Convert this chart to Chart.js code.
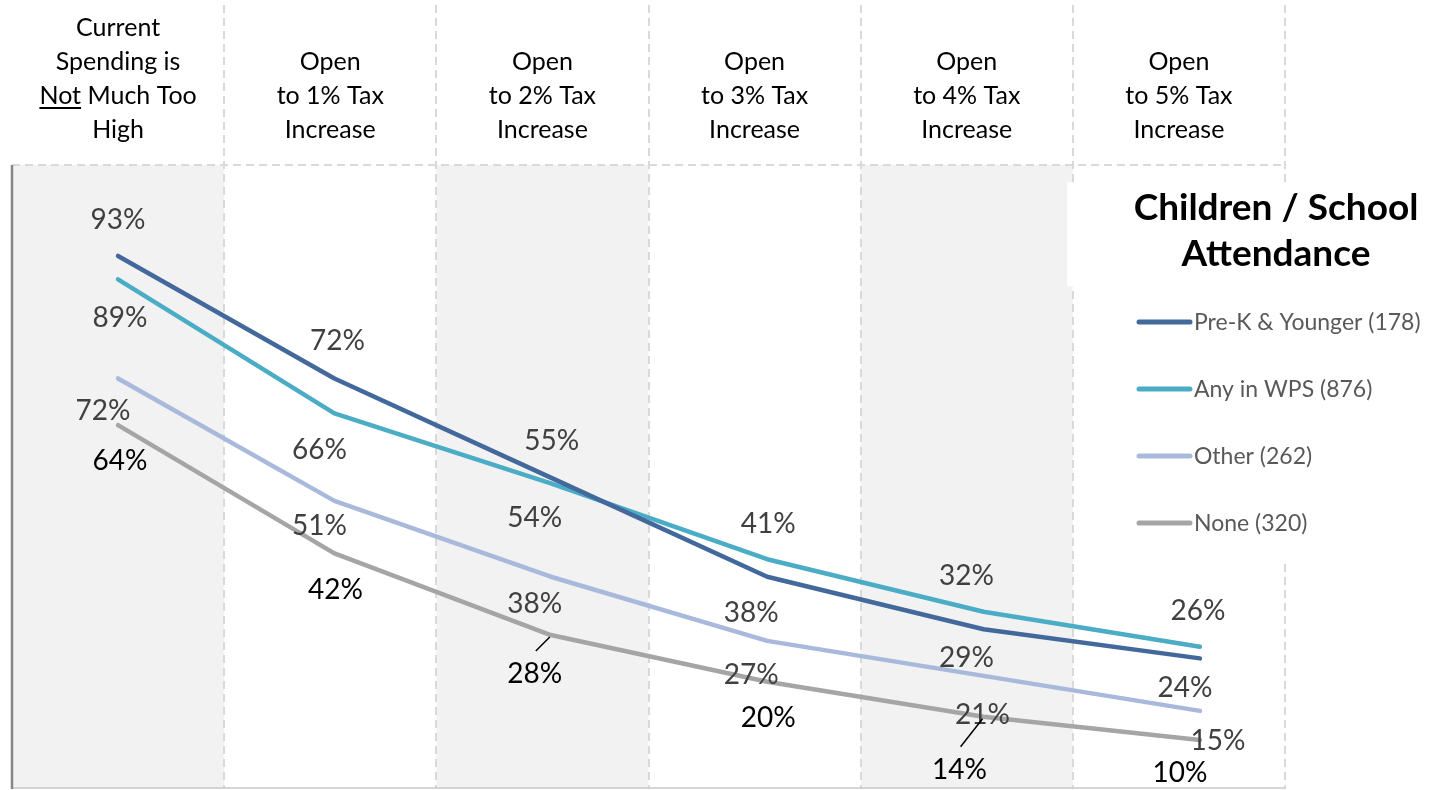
<!DOCTYPE html>
<html>
<head>
<meta charset="utf-8">
<script src="https://cdn.jsdelivr.net/npm/chart.js@4.4.1/dist/chart.umd.min.js"></script>
<style>
  html, body { margin: 0; padding: 0; background: #fff; }
  #wrap { width: 1437px; height: 790px; position: relative; }
</style>
</head>
<body>
<div id="wrap"><canvas id="chart"></canvas></div>
<script>
// Column headers (one array per column, one string per line)
const categories = [
  ['Current', 'Spending is', 'Not Much Too', 'High'],
  ['Open', 'to 1% Tax', 'Increase'],
  ['Open', 'to 2% Tax', 'Increase'],
  ['Open', 'to 3% Tax', 'Increase'],
  ['Open', 'to 4% Tax', 'Increase'],
  ['Open', 'to 5% Tax', 'Increase'],
];
const underlinedWord = 'Not';

// Series values (percent)
const preK = [93, 72, 55, 38, 29, 24];
const anyWps = [89, 66, 54, 41, 32, 26];
const other = [72, 51, 38, 27, 21, 15];
const none = [64, 42, 28, 20, 14, 10];

const seriesNames = ['Pre-K & Younger (178)', 'Any in WPS (876)', 'Other (262)', 'None (320)'];
const legendTitle = ['Children / School', 'Attendance'];

const COLORS = {
  preK: '#43689b',
  anyWps: '#4bacc6',
  other: '#a9b9db',
  none: '#a5a5a5',
  band: '#f2f2f2',
  dash: '#d9d9d9',
  axis: '#868686',
  label: '#404040',
  legend: '#595959',
};
const FONT = 'Lato, "Open Sans", sans-serif';

// data label placement relative to each point: [dx, dy, leader]
const labelOffsets = [
  [[0, -37], [3, -38], [1, -38], [-16, 35], [-17, 28], [-15, 29]],
  [[2, 38], [-15, 36], [-16, 34], [1, -36], [-17, -37], [-2, -37]],
  [[-15, 32], [-15, 24], [-16, 26], [-16, 33], [-1, 38], [18, 29]],
  [[2, 35], [1, 36], [-16, 38, true], [1, 35], [-24, 52, true], [-20, 32]],
];
const labelColors = [COLORS.label, COLORS.label, COLORS.label, '#000000'];

const toPoints = arr => arr.map((v, i) => ({ x: i, y: v }));

function makeSeries(label, values, color) {
  return {
    label,
    data: toPoints(values),
    xAxisID: 'xl',
    yAxisID: 'y',
    borderColor: color,
    backgroundColor: color,
    borderWidth: 4.5,
    pointRadius: 0,
    tension: 0,
    borderCapStyle: 'round',
    borderJoinStyle: 'round',
  };
}

const backdrop = {
  id: 'backdrop',
  beforeDatasetsDraw(chart) {
    const { ctx, chartArea: a, scales: { x } } = chart;
    const bw = a.width / categories.length;
    ctx.save();

    // alternating shaded columns
    ctx.fillStyle = COLORS.band;
    categories.forEach((c, i) => {
      if (i % 2 === 0) {
        ctx.fillRect(x.getPixelForValue(i) - bw / 2, a.top, bw, a.bottom - a.top);
      }
    });

    // dashed table lines
    ctx.strokeStyle = COLORS.dash;
    ctx.lineWidth = 2;
    ctx.setLineDash([8, 5]);
    categories.forEach((c, i) => {
      const gx = Math.round(x.getPixelForValue(i) + bw / 2);
      ctx.beginPath();
      ctx.moveTo(gx, 5);
      ctx.lineTo(gx, a.bottom);
      ctx.stroke();
    });
    ctx.beginPath();
    ctx.moveTo(a.left, a.top);
    ctx.lineTo(a.right, a.top);
    ctx.stroke();
    ctx.setLineDash([]);

    // bottom border + left axis
    ctx.strokeStyle = '#c8c8c8';
    ctx.lineWidth = 1.5;
    ctx.beginPath();
    ctx.moveTo(a.left, a.bottom - 1);
    ctx.lineTo(a.right, a.bottom - 1);
    ctx.stroke();
    ctx.strokeStyle = COLORS.axis;
    ctx.lineWidth = 2.5;
    ctx.beginPath();
    ctx.moveTo(a.left, a.top);
    ctx.lineTo(a.left, a.bottom);
    ctx.stroke();

    // header labels
    ctx.font = '25px ' + FONT;
    ctx.fillStyle = '#000';
    ctx.textAlign = 'left';
    ctx.textBaseline = 'alphabetic';
    const lastBase = a.top - 27;
    categories.forEach((lines, i) => {
      const cx = x.getPixelForValue(i);
      lines.forEach((line, j) => {
        const by = lastBase - (lines.length - 1 - j) * 34;
        const w = ctx.measureText(line).width;
        const sx = cx - w / 2;
        ctx.fillText(line, sx, by);
        if (line.startsWith(underlinedWord + ' ')) {
          const uw = ctx.measureText(underlinedWord).width;
          ctx.fillRect(sx, by + 3, uw, 2);
        }
      });
    });
    ctx.restore();
  },
};

const overlay = {
  id: 'overlay',
  afterDatasetsDraw(chart) {
    const { ctx } = chart;
    ctx.save();

    // white boxes behind title and legend
    ctx.fillStyle = '#fff';
    ctx.fillRect(1067, 182, 370, 104);
    ctx.fillRect(1110, 286, 327, 275);

    // legend title
    ctx.fillStyle = '#000';
    ctx.font = 'bold 37px ' + FONT;
    ctx.textAlign = 'center';
    ctx.textBaseline = 'alphabetic';
    legendTitle.forEach((t, i) => ctx.fillText(t, 1276, 220 + i * 46));

    // legend entries
    ctx.font = '23px ' + FONT;
    ctx.textAlign = 'left';
    ctx.textBaseline = 'middle';
    ctx.lineCap = 'round';
    chart.data.datasets.forEach((ds, i) => {
      const ly = 322 + i * 67;
      ctx.strokeStyle = ds.borderColor;
      ctx.lineWidth = 5;
      ctx.beginPath();
      ctx.moveTo(1139, ly);
      ctx.lineTo(1190, ly);
      ctx.stroke();
      ctx.fillStyle = COLORS.legend;
      ctx.fillText(ds.label, 1194, ly + 1);
    });

    // data labels
    ctx.font = '28px ' + FONT;
    ctx.textAlign = 'center';
    ctx.textBaseline = 'alphabetic';
    ctx.lineCap = 'butt';
    const values = [preK, anyWps, other, none];
    chart.data.datasets.forEach((ds, si) => {
      const meta = chart.getDatasetMeta(si);
      meta.data.forEach((pt, i) => {
        const [dx, dy, leader] = labelOffsets[si][i];
        const lx = pt.x + dx;
        const ly = pt.y + dy;
        ctx.fillStyle = labelColors[si];
        ctx.fillText(values[si][i] + '%', lx, ly + 10);
        if (leader) {
          ctx.strokeStyle = '#000';
          ctx.lineWidth = 1.5;
          ctx.beginPath();
          ctx.moveTo(lx + 1, ly - 22);
          ctx.lineTo(pt.x - 1, pt.y + 2);
          ctx.stroke();
        }
      });
    });
    ctx.restore();
  },
};

function draw() {
  new Chart(document.getElementById('chart'), {
    type: 'line',
    data: {
      labels: categories.map(c => c.join(' ')),
      datasets: [
        makeSeries(seriesNames[0], preK, COLORS.preK),
        makeSeries(seriesNames[1], anyWps, COLORS.anyWps),
        makeSeries(seriesNames[2], other, COLORS.other),
        makeSeries(seriesNames[3], none, COLORS.none),
      ],
    },
    options: {
      responsive: true,
      maintainAspectRatio: false,
      animation: false,
      layout: { padding: { left: 12, right: 152, top: 165, bottom: 1 } },
      plugins: {
        legend: { display: false },
        tooltip: { enabled: false },
      },
      scales: {
        x: { type: 'category', offset: true, display: false },
        xl: { type: 'linear', min: -0.49, max: 5.393, display: false },
        y: { type: 'linear', min: 1.6, max: 108.6, display: false },
      },
    },
    plugins: [backdrop, overlay],
  });
}

Promise.all([
  document.fonts.load('25px Lato'),
  document.fonts.load('bold 37px Lato'),
]).then(draw, draw);
</script>
</body>
</html>
